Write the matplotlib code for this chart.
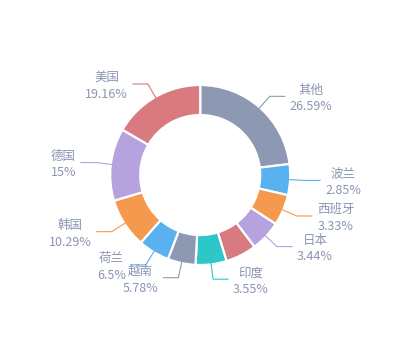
import matplotlib
matplotlib.use('Agg')
import matplotlib.pyplot as plt
import numpy as np

# ---- data (percent shares, clockwise from 12 o'clock) ----
names = ['其他', '波兰', '西班牙', '日本', '', '印度', '越南', '荷兰', '韩国', '德国', '美国']
values = [26.59, 2.85, 3.33, 3.44, 3.51, 3.55, 5.78, 6.5, 10.29, 15, 19.16]
colors = ['#8d98b3', '#5ab1ef', '#f5994e', '#b6a2de', '#d87a80', '#2ec7c9',
          '#8d98b3', '#5ab1ef', '#f5994e', '#b6a2de', '#d87a80']

MIN_ANGLE = 20.0  # minimum sector angle (degrees)


def sector_angles(vals, min_angle):
    total = sum(vals)
    ang = [v / total * 360.0 for v in vals]
    constrained = [a < min_angle for a in ang]
    rest = 360.0 - min_angle * sum(constrained)
    big = sum(v for v, c in zip(vals, constrained) if not c)
    return [min_angle if c else v * rest / big for v, c in zip(vals, constrained)]


plt.rcParams['font.family'] = ['Noto Sans CJK SC', 'DejaVu Sans']
TEXT_COLOR = '#8a95b3'

fig = plt.figure(figsize=(4, 3.5), dpi=100)
ax = fig.add_axes([0, 0, 1, 1])

cx, cy = 200.2, 175.0
r_out, r_in = 90.0, 60.0

angles = sector_angles(values, MIN_ANGLE)
wedges, _ = ax.pie(angles, colors=colors, startangle=90, counterclock=False,
                   radius=r_out, center=(cx, cy),
                   wedgeprops=dict(width=r_out - r_in, edgecolor='white', linewidth=1.6))
ax.set_xlim(0, 400)
ax.set_ylim(0, 350)
ax.set_aspect('equal')
ax.axis('off')

LEN1, LEN2, GAP = 15, 15, 5
for w, name, v, col in zip(wedges, names, values, colors):
    if not name:
        continue
    mid = np.deg2rad((w.theta1 + w.theta2) / 2.0)
    c, s = np.cos(mid), np.sin(mid)
    r0 = r_out - 1
    p0 = (cx + r0 * c, cy + r0 * s)
    p1 = (cx + (r_out + LEN1) * c, cy + (r_out + LEN1) * s)
    sign = 1 if c >= 0 else -1
    p2 = (p1[0] + sign * LEN2, p1[1])
    ax.plot([p0[0], p1[0], p2[0]], [p0[1], p1[1], p2[1]], color=col, lw=0.8,
            solid_joinstyle='miter')
    ax.text(p2[0] + sign * GAP, p2[1] - 2.0, f'{name}\n{v:g}%',
            ha='left' if sign > 0 else 'right', va='center',
            multialignment='center', fontsize=9, color=TEXT_COLOR, linespacing=1.38)

fig.savefig('out.png', dpi=100)
